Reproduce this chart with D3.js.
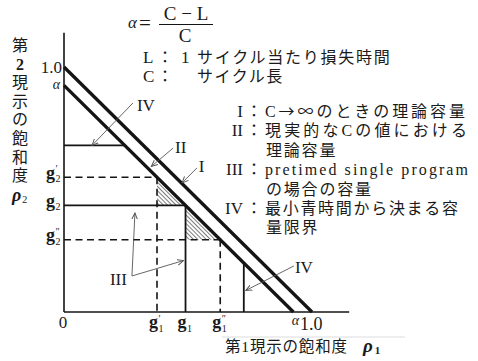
<!DOCTYPE html>
<html><head><meta charset="utf-8">
<script src="https://cdn.jsdelivr.net/npm/d3@7"></script>
<style>
html,body{margin:0;padding:0;background:#fff;}
svg{display:block;}
text{font-family:'Liberation Serif','Noto Sans CJK JP',serif;fill:#1a1a1a;}
.cjk{font-family:'Noto Sans CJK JP',sans-serif;}
</style></head><body>
<svg id="chart" width="478" height="361"></svg>
<script>
// Saturation of phase 1 (ρ1) against saturation of phase 2 (ρ2)
const alpha = 0.925;                        // (C − L) / C
const boundaryIntercepts = [1.0, alpha];    // line I, line II
const g1Values = [0.375, 0.49, 0.63];       // g′1, g1, g″1
const g2Values = [0.55, 0.435, 0.295];      // g′2, g2, g″2
const gMarks = ["′", "", "″"];
const minGreenRho2 = 0.68;                  // IV: limit on ρ2
const minGreenRho1 = 0.725;                 // IV: limit on ρ1
const yTitleChars = ["第", "2", "現", "示", "の", "飽", "和", "度"];
const xTitleText = "第1現示の飽和度";
const definitions = [["L", "1", "サイクル当たり損失時間"], ["C", "", "サイクル長"]];
const legendNumerals = ["I", "II", "III", "IV"];
const legendLines = [
  [["C", "→∞", "のときの理論容量"]],
  [["現実的なCの値における"], ["理論容量"]],
  [["pretimed single program"], ["の場合の容量"]],
  [["最小青時間から決まる容"], ["量限界"]]
];

const svg = d3.select("#chart");
const x = d3.scaleLinear().domain([0, 1]).range([64, 312]);
const y = d3.scaleLinear().domain([0, 1]).range([312, 67]);
const ink = "#141414";

// hatch pattern and arrowheads
const defs = svg.append("defs");
const pat = defs.append("pattern").attr("id", "hatch")
  .attr("patternUnits", "userSpaceOnUse").attr("width", 3).attr("height", 3)
  .attr("patternTransform", "rotate(-45)");
pat.append("line").attr("x1", 0.5).attr("y1", 0).attr("x2", 0.5).attr("y2", 3)
  .attr("stroke", "#707070").attr("stroke-width", 0.9);
defs.append("marker").attr("id", "arrow").attr("viewBox", "0 0 10 10")
  .attr("refX", 9).attr("refY", 5).attr("markerWidth", 7).attr("markerHeight", 7)
  .attr("markerUnits", "userSpaceOnUse").attr("orient", "auto")
  .append("path").attr("d", "M0,1 L9,5 L0,9").attr("fill", "none")
  .attr("stroke", "#555").attr("stroke-width", 1.4);

// hatched triangles between the three operating points
const tri = (a, b) => [[g1Values[a], g2Values[a]], [g1Values[a], g2Values[b]], [g1Values[b], g2Values[b]]];
svg.selectAll("path.hatch").data([tri(0, 1), tri(1, 2)]).join("path")
  .attr("class", "hatch")
  .attr("d", d => d3.line().x(p => x(p[0])).y(p => y(p[1]))(d) + "Z")
  .attr("fill", "url(#hatch)");

// capacity rectangles (g1, g2 solid; primed ones dashed)
g1Values.forEach((gx, i) => {
  const gy = g2Values[i];
  const dash = i === 1 ? null : "7,4.5";
  const w = i === 1 ? 1.8 : 1.6;
  svg.append("line").attr("x1", x(0)).attr("x2", x(gx)).attr("y1", y(gy)).attr("y2", y(gy))
    .attr("stroke", ink).attr("stroke-width", w).attr("stroke-dasharray", dash);
  svg.append("line").attr("x1", x(gx)).attr("x2", x(gx)).attr("y1", y(gy)).attr("y2", y(0))
    .attr("stroke", ink).attr("stroke-width", w).attr("stroke-dasharray", dash);
});

// minimum green limits (IV)
svg.append("line").attr("x1", x(0)).attr("x2", x(alpha - minGreenRho2))
  .attr("y1", y(minGreenRho2)).attr("y2", y(minGreenRho2))
  .attr("stroke", ink).attr("stroke-width", 1.8);
svg.append("line").attr("x1", x(minGreenRho1)).attr("x2", x(minGreenRho1))
  .attr("y1", y(0)).attr("y2", y(alpha - minGreenRho1))
  .attr("stroke", ink).attr("stroke-width", 1.8);

// capacity boundaries I and II
svg.selectAll("path.bound").data(boundaryIntercepts).join("path")
  .attr("class", "bound")
  .attr("d", b => d3.line().x(p => x(p[0])).y(p => y(p[1]))([[0, b], [b, 0]]))
  .attr("stroke", ink).attr("stroke-width", 3.3).attr("fill", "none");

// axes
svg.append("line").attr("x1", x(0)).attr("x2", x(0)).attr("y1", y(0)).attr("y2", y(1.14))
  .attr("stroke", ink).attr("stroke-width", 1.6);
svg.append("line").attr("x1", x(0)).attr("x2", x(1.15)).attr("y1", y(0)).attr("y2", y(0))
  .attr("stroke", ink).attr("stroke-width", 1.6);

// leader lines and their labels
const leaders = [
  { label: "IV", at: [0.294, 0.82], from: [0.278, 0.853], to: [0.113, 0.68] },
  { label: "II", at: [0.448, 0.649], from: [0.44, 0.669], to: [0.352, 0.594] },
  { label: "I", at: [0.543, 0.571], from: [0.536, 0.588], to: [0.476, 0.527] },
  { label: "IV", at: [0.931, 0.159], from: [0.927, 0.188], to: [0.733, 0.088] },
  { label: "III", at: [0.185, 0.11], from: [0.274, 0.147], to: [0.286, 0.404] },
  { label: null, from: [0.274, 0.147], to: [0.482, 0.21] }
];
leaders.forEach(d => {
  svg.append("line").attr("x1", x(d.from[0])).attr("y1", y(d.from[1]))
    .attr("x2", x(d.to[0])).attr("y2", y(d.to[1]))
    .attr("stroke", "#555").attr("stroke-width", 0.9).attr("marker-end", "url(#arrow)");
  if (d.label) svg.append("text").attr("x", x(d.at[0])).attr("y", y(d.at[1]))
    .attr("font-size", 17).text(d.label);
});

// g label: bold g with subscript and an optional prime stacked above it
function gLabel(px, py, sub, mark) {
  const t = svg.append("text").attr("x", px).attr("y", py);
  t.append("tspan").attr("font-size", 18).attr("font-weight", "bold").text("g");
  t.append("tspan").attr("font-size", 10).attr("dx", 0.5).attr("dy", 3.5).text(sub);
  if (mark) t.append("tspan").attr("font-size", 10).attr("dx", -5).attr("dy", -10).text(mark);
}

// y tick labels
svg.append("text").attr("x", x(0) - 2).attr("y", y(1) + 6).attr("text-anchor", "end")
  .attr("font-size", 17).text("1.0");
svg.append("text").attr("x", x(0) - 4).attr("y", y(alpha) + 4).attr("text-anchor", "end")
  .attr("font-size", 14).attr("font-style", "italic").text("α");
g2Values.forEach((v, i) => gLabel(x(0) - 18, y(v) + 1.5, "2", gMarks[i]));

// x tick labels
svg.append("text").attr("x", x(0) - 1).attr("y", 328).attr("text-anchor", "middle")
  .attr("font-size", 17).text("0");
svg.append("text").attr("x", x(alpha) + 2).attr("y", 325).attr("text-anchor", "middle")
  .attr("font-size", 14).attr("font-style", "italic").text("α");
svg.append("text").attr("x", x(1) - 12).attr("y", 330).attr("font-size", 18).text("1.0");
g1Values.forEach((v, i) => gLabel(x(v) - 8, 328, "1", gMarks[i]));

// axis titles
yTitleChars.forEach((c, i) => {
  svg.append("text").attr("x", 20).attr("y", 51 + i * 18.6).attr("text-anchor", "middle")
    .attr("font-size", 16).attr("font-weight", /\d/.test(c) ? "bold" : null).text(c);
});
const rho2 = svg.append("text").attr("x", 12).attr("y", 201);
rho2.append("tspan").attr("font-size", 18).attr("font-style", "italic").attr("font-weight", "bold").text("ρ");
rho2.append("tspan").attr("font-size", 10).attr("dx", 1).attr("dy", 2).text("2");

svg.append("line").attr("x1", 222).attr("x2", 405).attr("y1", 337).attr("y2", 337)
  .attr("stroke", "#dcdcdc").attr("stroke-width", 1);
svg.append("text").attr("x", 225).attr("y", 352).attr("font-size", 15.5)
  .attr("textLength", 122).attr("lengthAdjust", "spacing").text(xTitleText);
const rho1 = svg.append("text").attr("x", 363).attr("y", 352);
rho1.append("tspan").attr("font-size", 19).attr("font-style", "italic").attr("font-weight", "bold").text("ρ");
rho1.append("tspan").attr("font-size", 11).attr("font-weight", "bold").attr("dx", 2).attr("dy", 2).text("1");

// formula for α
svg.append("text").attr("x", 128).attr("y", 28).attr("font-size", 17).attr("font-style", "italic").text("α");
svg.append("text").attr("x", 139).attr("y", 30).attr("font-size", 21).text("=");
svg.append("text").attr("x", 186).attr("y", 20).attr("text-anchor", "middle")
  .attr("font-size", 19).text("C − L");
svg.append("line").attr("x1", 159).attr("x2", 213).attr("y1", 24.5).attr("y2", 24.5)
  .attr("stroke", ink).attr("stroke-width", 1.2);
svg.append("text").attr("x", 185).attr("y", 42).attr("text-anchor", "middle")
  .attr("font-size", 19).text("C");

// definitions of L and C, one text per row
definitions.forEach((d, i) => {
  const by = 63 + i * 19;
  const t = svg.append("text").attr("x", 143).attr("y", by);
  t.append("tspan").attr("font-size", 17).text(d[0]);
  t.append("tspan").attr("x", 157).attr("font-size", 16).text("：");
  if (d[1]) t.append("tspan").attr("x", 181).attr("font-size", 17).text(d[1]);
  t.append("tspan").attr("x", 197).attr("font-size", 16)
    .attr("letter-spacing", i === 0 ? 1.75 : 1.5).text(d[2]);
});

// legend for I – IV
const legendWidths = [200, 202, 203, 193];
let row = 0;
legendNumerals.forEach((n, i) => {
  const by0 = 117 + row * 19.4;
  svg.append("text").attr("x", 243).attr("y", by0).attr("text-anchor", "end")
    .attr("font-size", 17).text(n);
  svg.append("text").attr("x", 246).attr("y", by0).attr("font-size", 16).text("：");
  legendLines[i].forEach((parts, k) => {
    const t = svg.append("text").attr("x", 265 + (k ? 1 : 0)).attr("y", 117 + row * 19.4)
      .attr("font-size", 16);
    parts.forEach(s => {
      const ts = t.append("tspan").text(s);
      if (s === "→∞") ts.attr("class", "cjk");
    });
    if (k === 0) t.attr("textLength", legendWidths[i]).attr("lengthAdjust", "spacing");
    else t.attr("letter-spacing", 1.8);
    row++;
  });
});
</script>
</body></html>
